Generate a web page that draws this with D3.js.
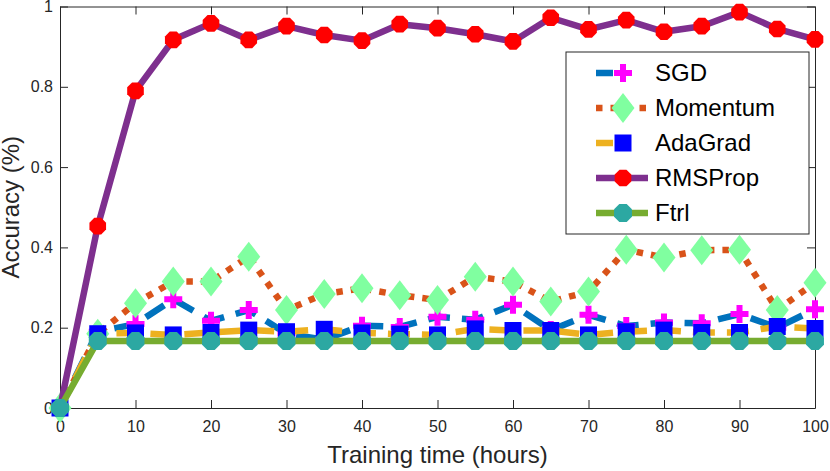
<!DOCTYPE html>
<html>
  <head>
    <script src="https://d3js.org/d3.v7.min.js"></script>
    <style>
      body,
      html {
        margin: 0;
        padding: 0;
        background: #fff;
        overflow: hidden;
      }
      text {
        font-family: "Liberation Sans", Arial, sans-serif;
        fill: #262626;
      }
    </style>
    <title>accuracy</title>
  </head>

  <body>
    <svg id="chart" width="830" height="471"></svg>

    <script>
      // training time (hours), every 5 h
      var hours = d3.range(0, 101, 5);
      var sgd = [0, 0.19, 0.209, 0.271, 0.217, 0.244, 0.185, 0.17, 0.205, 0.202, 0.227, 0.22, 0.257, 0.194, 0.232, 0.204, 0.213, 0.211, 0.234, 0.2, 0.246];
      var momentum = [0, 0.185, 0.261, 0.315, 0.315, 0.377, 0.244, 0.284, 0.298, 0.281, 0.269, 0.327, 0.315, 0.265, 0.29, 0.394, 0.375, 0.393, 0.394, 0.244, 0.312];
      var adagrad = [0, 0.185, 0.187, 0.182, 0.188, 0.194, 0.19, 0.196, 0.187, 0.184, 0.182, 0.197, 0.193, 0.193, 0.182, 0.19, 0.194, 0.188, 0.188, 0.203, 0.198];
      var rmsprop = [0, 0.453, 0.79, 0.917, 0.958, 0.917, 0.951, 0.929, 0.915, 0.956, 0.946, 0.931, 0.913, 0.972, 0.943, 0.966, 0.937, 0.951, 0.986, 0.944, 0.918];
      var ftrl = [0, 0.167, 0.167, 0.167, 0.167, 0.167, 0.167, 0.167, 0.167, 0.167, 0.167, 0.167, 0.167, 0.167, 0.167, 0.167, 0.167, 0.167, 0.167, 0.167, 0.167];
      var seriesNames = ["SGD", "Momentum", "AdaGrad", "RMSProp", "Ftrl"];
      var xTicks = [0, 10, 20, 30, 40, 50, 60, 70, 80, 90, 100];
      var yTicks = [0, 0.2, 0.4, 0.6, 0.8, 1];

      var plotLeft = 60, plotRight = 815, plotTop = 6.5, plotBottom = 408;
      var axisColor = "#262626";

      var xScale = d3.scaleLinear().domain([0, 100]).range([plotLeft, plotRight]);
      var yScale = d3.scaleLinear().domain([0, 1]).range([plotBottom, plotTop]);

      var canvas = d3.select("#chart");

      // marker shapes
      function octagon(r) {
        var pts = d3.range(8).map(function (i) {
          var a = Math.PI / 8 + (i * Math.PI) / 4;
          return [r * Math.cos(a), r * Math.sin(a)];
        });
        return "M" + pts.join("L") + "Z";
      }
      function diamond(w, h) {
        return "M0," + -h / 2 + "L" + w / 2 + ",0L0," + h / 2 + "L" + -w / 2 + ",0Z";
      }
      function square(s) {
        return "M" + -s / 2 + "," + -s / 2 + "h" + s + "v" + s + "h" + -s + "Z";
      }
      var cross = d3.symbol().type(d3.symbolCross).size(180)();

      var styles = [
        { values: sgd, line: "#0072BD", dash: "22,12", legendDash: "17,40", marker: cross, fill: "#FF00FF" },
        { values: momentum, line: "#D95319", dash: "6.5,8", legendDash: "6.5,8", marker: diamond(23, 30), fill: "#80FFA0" },
        { values: adagrad, line: "#EDB120", dash: "22,12", legendDash: "17,40", marker: square(17), fill: "#0000FF" },
        { values: rmsprop, line: "#7E2F8E", dash: null, legendDash: null, marker: octagon(9), fill: "#FF0000" },
        { values: ftrl, line: "#77AC30", dash: null, legendDash: null, marker: octagon(9.7), fill: "#2CA8A2" }
      ];

      // axes (drawn below data)
      var axes = canvas.append("g");
      axes
        .append("g")
        .attr("transform", "translate(0," + plotBottom + ")")
        .call(d3.axisBottom(xScale).tickValues(xTicks).tickSize(-8).tickSizeOuter(0).tickPadding(13));
      axes
        .append("g")
        .attr("transform", "translate(0," + plotTop + ")")
        .call(d3.axisTop(xScale).tickValues(xTicks).tickSize(-8).tickSizeOuter(0).tickFormat(""));
      axes
        .append("g")
        .attr("transform", "translate(" + plotLeft + ",0)")
        .call(d3.axisLeft(yScale).tickValues(yTicks).tickSize(-8).tickSizeOuter(0).tickPadding(7).tickFormat(d3.format("~g")));
      axes
        .append("g")
        .attr("transform", "translate(" + plotRight + ",0)")
        .call(d3.axisRight(yScale).tickValues(yTicks).tickSize(-8).tickSizeOuter(0).tickFormat(""));
      axes.selectAll("line,path").style("stroke", axisColor).style("stroke-width", "1px");
      axes.selectAll("text").style("font-size", "16px").style("font-family", "Liberation Sans, Arial, sans-serif").style("fill", axisColor);

      canvas
        .append("text")
        .attr("x", (plotLeft + plotRight) / 2)
        .attr("y", 463)
        .attr("text-anchor", "middle")
        .style("font-size", "24px")
        .text("Training time (hours)");

      canvas
        .append("text")
        .attr("transform", "translate(19," + (plotTop + plotBottom) / 2 + ") rotate(-90)")
        .attr("text-anchor", "middle")
        .style("font-size", "24px")
        .text("Accuracy (%)");

      // series: line then markers, in plotting order
      var line = d3
        .line()
        .x(function (d, i) { return xScale(hours[i]); })
        .y(function (d) { return yScale(d); });

      styles.forEach(function (s) {
        var g = canvas.append("g");
        g.append("path")
          .attr("d", line(s.values))
          .style("fill", "none")
          .style("stroke", s.line)
          .style("stroke-width", 6.5)
          .style("stroke-linejoin", "round")
          .style("stroke-dasharray", s.dash);
        g.selectAll("path.marker")
          .data(s.values)
          .enter()
          .append("path")
          .attr("class", "marker")
          .attr("d", s.marker)
          .attr("transform", function (d, i) {
            return "translate(" + xScale(hours[i]) + "," + yScale(d) + ")";
          })
          .style("fill", s.fill);
      });

      // legend
      var legend = canvas.append("g").attr("transform", "translate(566,52)");
      legend
        .append("rect")
        .attr("width", 243)
        .attr("height", 182)
        .style("fill", "#fff")
        .style("stroke", axisColor)
        .style("stroke-width", 1);

      var rowY = d3.scalePoint().domain(seriesNames).range([21, 161]);
      seriesNames.forEach(function (name, i) {
        var s = styles[i];
        var y = rowY(name);
        legend
          .append("line")
          .attr("x1", 30)
          .attr("x2", 82)
          .attr("y1", y)
          .attr("y2", y)
          .style("stroke", s.line)
          .style("stroke-width", 6.5)
          .style("stroke-dasharray", s.legendDash);
        legend
          .append("path")
          .attr("d", s.marker)
          .attr("transform", "translate(57," + y + ")")
          .style("fill", s.fill);
        legend
          .append("text")
          .attr("x", 89)
          .attr("y", y)
          .attr("dy", "0.35em")
          .style("font-size", "24px")
          .style("fill", "#000")
          .text(name);
      });
    </script>
  </body>
</html>
